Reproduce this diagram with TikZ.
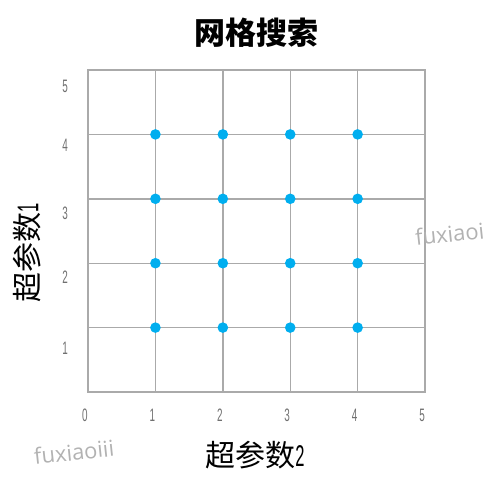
\documentclass[tikz,border=0pt]{standalone}
\usepackage{fontspec}
\newfontfamily\cjk{Noto Sans CJK SC}
\newfontfamily\numfont[FakeStretch=0.55]{Liberation Sans}
\newfontfamily\markfont{Open Sans}
\definecolor{gridgray}{HTML}{AAAAAA}
\definecolor{dotblue}{HTML}{00AEEF}
\definecolor{ticktext}{HTML}{707070}
\tikzset{
  gridline/.style={draw=gridgray,line width=1.4pt},
  gridpt/.style={circle,fill=dotblue,inner sep=0pt,minimum size=10.6pt},
  ticklbl/.style={text=ticktext,font=\numfont\fontsize{18}{18}\selectfont,inner sep=0pt},
  axislbl/.style={font=\cjk\fontsize{30}{30}\selectfont,inner sep=0pt},
  watermark/.style={text=black!30,font=\markfont\fontsize{22}{22}\selectfont,inner sep=0pt,rotate=6}
}
\begin{document}
\begin{tikzpicture}[x=67.4pt,y=64.4pt]
\useasboundingbox (-1.306,-1.599) rectangle (5.846,6.087);
% grid
\foreach \i in {1,...,4} {
  \draw[gridline] (\i,0)--(\i,5);
  \draw[gridline] (0,\i)--(5,\i);
}
\draw[gridline] (0,0) rectangle (5,5);
% search points
\foreach \i in {1,...,4}
  \foreach \j in {1,...,4}
    \node[gridpt] (p\i\j) at (\i,\j) {};
% ticks
\foreach \i in {0,...,5}
  \node[ticklbl] (tx\i) at (\i-0.045,-0.357) {\i};
\node[ticklbl] (ty5) at (-0.341,4.741) {5};
\node[ticklbl] (ty4) at (-0.341,3.835) {4};
\node[ticklbl] (ty3) at (-0.341,2.780) {3};
\node[ticklbl] (ty2) at (-0.341,1.790) {2};
\node[ticklbl] (ty1) at (-0.341,0.683) {1};
% labels
\node[font=\cjk\bfseries\fontsize{31}{31}\selectfont,inner sep=0pt] (title) at (2.493,5.575) {网格搜索};
\node[axislbl] (xlbl) at (2.478,-0.978) {超参数{\numfont 2}};
\node[axislbl,rotate=90] (ylbl) at (-0.905,2.158) {超参数{\numfont 1}};
\node[watermark] (wm1) at (-0.208,-0.932) {fuxiaoiii};
\node[watermark,anchor=west] (wm2) at (4.852,2.400) {fuxiaoiii};
\end{tikzpicture}
\end{document}
